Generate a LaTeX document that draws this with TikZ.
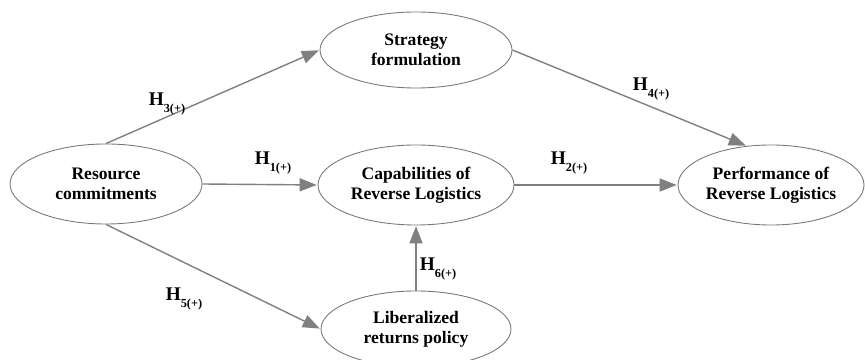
\documentclass[tikz,border=0pt]{standalone}
\usepackage{fontspec}
\setmainfont{Liberation Serif}
\usepackage{xcolor}
\definecolor{edgegray}{RGB}{128, 128, 128}
\definecolor{rimgray}{RGB}{120, 120, 120}
\usetikzlibrary{shapes.geometric,arrows.meta}
\newcommand{\hyp}[1]{\textbf{H}\raisebox{-0.8ex}{\scriptsize\textbf{#1(+)}}}

\tikzset{
    construct/.style={ellipse, draw=rimgray, line width=0.5pt, inner sep=0pt,
        minimum width=3.84cm, minimum height=1.6cm, align=center,
        font=\fontsize{10}{11.4}\selectfont\bfseries},
    path/.style={draw=edgegray, line width=0.8pt,
        -{Triangle[length=0.34cm,width=0.26cm]}, shorten >=0.5pt},
    hlabel/.style={font=\fontsize{11}{12}\selectfont, inner sep=1pt}
}

\begin{document}
\begin{tikzpicture}
    \useasboundingbox (0,0) rectangle (17.3,7.2);

    % constructs
    \node[construct] (res) at (2.12,3.52) {Resource\\commitments};
    \node[construct, minimum width=3.84cm, minimum height=1.52cm] (str) at (8.32,6.2) {Strategy\\formulation};
    \node[construct, minimum width=3.92cm] (cap) at (8.32,3.5) {Capabilities of\\Reverse Logistics};
    \node[construct, minimum width=3.8cm, minimum height=1.52cm] (lib) at (8.32,0.62) {Liberalized\\returns policy};
    \node[construct, minimum width=3.72cm] (perf) at (15.42,3.5) {Performance of\\Reverse Logistics};

    % hypotheses
    \draw[path] (res.north) -- (str.west);
    \draw[path] (str.east) -- (perf.122);
    \draw[path] (res.east) -- (cap.west);
    \draw[path] (cap.east) -- (perf.west);
    \draw[path] (res.south) -- (lib.west);
    \draw[path] (lib.north) -- (cap.south);

    \node[hlabel] (h3) at (3.34,5.12) {\hyp{3}};
    \node[hlabel] (h4) at (13.02,5.42) {\hyp{4}};
    \node[hlabel] (h1) at (5.46,3.94) {\hyp{1}};
    \node[hlabel] (h2) at (11.38,3.94) {\hyp{2}};
    \node[hlabel] (h5) at (3.68,1.22) {\hyp{5}};
    \node[hlabel] (h6) at (8.76,1.82) {\hyp{6}};
\end{tikzpicture}
\end{document}
